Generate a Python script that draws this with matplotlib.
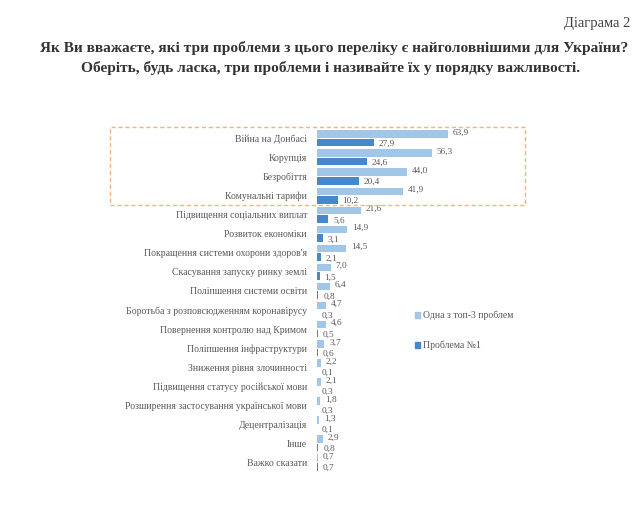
import numpy as np
import matplotlib
matplotlib.use('Agg')
import matplotlib.pyplot as plt
from matplotlib.patches import Rectangle, Patch

plt.rcParams['font.family'] = ['Liberation Serif', 'DejaVu Serif']

# data
categories = ['Війна на Донбасі', 'Корупція', 'Безробіття', 'Комунальні тарифи',
              'Підвищення соціальних виплат', 'Розвиток економіки',
              "Покращення системи охорони здоров'я", 'Скасування запуску ринку землі',
              'Поліпшення системи освіти', 'Боротьба з розповсюдженням коронавірусу',
              'Повернення контролю над Кримом', 'Поліпшення інфраструктури',
              'Зниження рівня злочинності', 'Підвищення статусу російської мови',
              'Розширення застосування української мови', 'Децентралізація',
              'Інше', 'Важко сказати']
top3 = [63.9, 56.3, 44.0, 41.9, 21.6, 14.9, 14.5, 7.0, 6.4, 4.7, 4.6, 3.7,
        2.2, 2.1, 1.8, 1.3, 2.9, 0.7]
first = [27.9, 24.6, 20.4, 10.2, 5.6, 3.1, 2.1, 1.5, 0.8, 0.3, 0.5, 0.6,
         0.1, 0.3, 0.3, 0.1, 0.8, 0.7]

light = '#A2C6E8'
dark = '#4788CC'
grey = '#595959'

fig = plt.figure(figsize=(6.4, 5.28), dpi=100)
ax = fig.add_axes([0.495, 0.106, 0.32, 0.65])

y = np.arange(len(categories))
h = 0.39
ax.barh(y - 0.225, top3, height=h, color=light)
ax.barh(y + 0.225, first, height=h, color=dark)

# value labels, comma as decimal separator
for yi, v in zip(y, top3):
    ax.text(v + 2.3, yi - 0.3, f'{v:.1f}'.replace('.', ','), fontsize=6.7,
            color=grey, va='center', ha='left')
for yi, v in zip(y, first):
    ax.text(v + 2.3, yi + 0.3, f'{v:.1f}'.replace('.', ','), fontsize=6.7,
            color=grey, va='center', ha='left')

ax.set_xlim(0, 100)
ax.set_ylim(len(categories) - 0.5, -0.5)
ax.set_yticks(y)
ax.set_yticklabels(categories, fontsize=7, color=grey)
ax.tick_params(axis='y', length=0, pad=7)
ax.set_xticks([])
for s in ax.spines.values():
    s.set_visible(False)

# dashed box around the top four problems
fig.patches.append(Rectangle((110 / 640, 1 - 205 / 528), 415 / 640, 78 / 528,
                             transform=fig.transFigure, fill=False,
                             edgecolor='#F4B183', linestyle=(0, (3, 2)),
                             linewidth=1.0))

handles = [Patch(color=light, label='Одна з топ-3 проблем'),
           Patch(color=dark, label='Проблема №1')]
fig.legend(handles=handles, loc='upper left', bbox_to_anchor=(0.634, 1 - 302 / 528),
           frameon=False, fontsize=7, labelcolor=grey, handlelength=0.55,
           handleheight=0.55, handletextpad=0.3, labelspacing=2.1)

fig.text(0.985, 1 - 23 / 528, 'Діаграма 2', ha='right', va='center',
         fontsize=10.5, color='#404040')
fig.text(0.522, 1 - 48 / 528,
         'Як Ви вважаєте, які три проблеми з цього переліку є найголовнішими для України?',
         ha='center', va='center', fontsize=11.1, fontweight='bold', color='#333333')
fig.text(0.516, 1 - 68 / 528,
         'Оберіть, будь ласка, три проблеми і називайте їх у порядку важливості.',
         ha='center', va='center', fontsize=11.1, fontweight='bold', color='#333333')

fig.savefig('out.png', dpi=100)
